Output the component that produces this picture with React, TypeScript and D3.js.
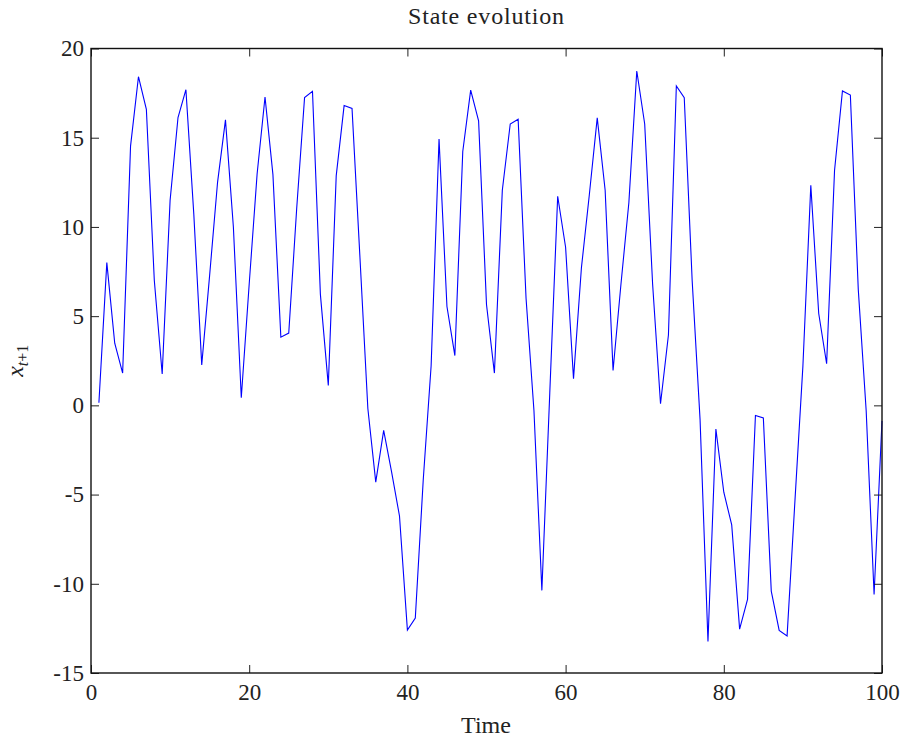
import * as d3 from 'd3';
import React, { useRef, useEffect } from 'react';

// time steps 1..100
const steps: number[] = Array.from({ length: 100 }, (_, i) => i + 1);

// state values
const stateValues: number[] = [
    0.15, 8.0, 3.48, 1.81, 14.53, 18.42, 16.59, 7.03, 1.76, 11.49,
    16.13, 17.69, 10.69, 2.27, 7.3, 12.5, 16.0, 10.0, 0.43, 6.8,
    12.97, 17.28, 12.93, 3.82, 4.05, 11.0, 17.25, 17.6, 6.22, 1.12,
    12.86, 16.8, 16.64, 8.3, -0.18, -4.3, -1.4, -3.73, -6.2, -12.59,
    -11.92, -4.2, 2.22, 14.92, 5.54, 2.79, 14.23, 17.67, 15.95, 5.65,
    1.81, 12.06, 15.77, 16.04, 6.0, -0.3, -10.37, 0.7, 11.72, 8.86,
    1.49, 7.71, 11.8, 16.11, 12.06, 1.95, 6.8, 11.37, 18.74, 15.77,
    6.8, 0.09, 3.94, 17.9, 17.25, 7.0, -0.8, -13.23, -1.33, -4.87,
    -6.7, -12.54, -10.87, -0.57, -0.71, -10.41, -12.61, -12.93, -5.3, 2.2,
    12.33, 5.15, 2.33, 13.16, 17.62, 17.39, 6.5, -0.3, -10.6, -0.87,
];

const xTicks: number[] = [0, 20, 40, 60, 80, 100];
const yTicks: number[] = [-15, -10, -5, 0, 5, 10, 15, 20];

const titleText = "State evolution";
const xLabel = "Time";

const W = 901;
const H = 738;
const margin = { left: 91, right: 19, top: 48.5, bottom: 65 };
const font = "'Liberation Serif', 'DejaVu Serif', serif";

function App() {
    const ref = useRef<SVGSVGElement>(null);

    useEffect(() => {
        const svg = d3.select(ref.current);
        svg.selectAll("*").remove();

        const innerW = W - margin.left - margin.right;
        const innerH = H - margin.top - margin.bottom;

        const x = d3.scaleLinear().domain([0, 100]).range([margin.left, margin.left + innerW]);
        const y = d3.scaleLinear().domain([-15, 20]).range([margin.top + innerH, margin.top]);

        svg.append("rect")
            .attr("width", W)
            .attr("height", H)
            .attr("fill", "#ffffff");

        // data line
        const line = d3.line<number>()
            .x((d, i) => x(steps[i]))
            .y(d => y(d));

        svg.append("path")
            .datum(stateValues)
            .attr("fill", "none")
            .attr("stroke", "#0000ff")
            .attr("stroke-width", 1.1)
            .attr("d", line);

        const tickLen = 8;
        const fmt = (d: any) => String(d); // plain hyphen minus like matlab

        // ticks inward on all four sides (matlab box style)
        const bottomAxis = d3.axisBottom(x).tickValues(xTicks).tickSizeInner(-tickLen).tickSizeOuter(0).tickPadding(11).tickFormat(fmt);
        const topAxis = d3.axisTop(x).tickValues(xTicks).tickSizeInner(-tickLen).tickSizeOuter(0).tickFormat(() => "");
        const leftAxis = d3.axisLeft(y).tickValues(yTicks).tickSizeInner(-tickLen).tickSizeOuter(0).tickPadding(7).tickFormat(fmt);
        const rightAxis = d3.axisRight(y).tickValues(yTicks).tickSizeInner(-tickLen).tickSizeOuter(0).tickFormat(() => "");

        const gb = svg.append("g").attr("transform", `translate(0,${margin.top + innerH})`).call(bottomAxis);
        const gt = svg.append("g").attr("transform", `translate(0,${margin.top})`).call(topAxis);
        const gl = svg.append("g").attr("transform", `translate(${margin.left},0)`).call(leftAxis);
        const gr = svg.append("g").attr("transform", `translate(${margin.left + innerW},0)`).call(rightAxis);

        [gb, gt, gl, gr].forEach(g => {
            g.select(".domain").remove();
            g.selectAll(".tick line").attr("stroke", "#222").attr("stroke-width", 1);
            g.selectAll(".tick text")
                .attr("fill", "#222")
                .style("font-family", font)
                .style("font-size", "23px");
        });

        // box frame
        svg.append("rect")
            .attr("x", margin.left)
            .attr("y", margin.top)
            .attr("width", innerW)
            .attr("height", innerH)
            .attr("fill", "none")
            .attr("stroke", "#111")
            .attr("stroke-width", 1.4);

        // title
        svg.append("text")
            .attr("x", 486)
            .attr("y", 24)
            .attr("text-anchor", "middle")
            .attr("fill", "#222")
            .attr("textLength", 156)
            .attr("lengthAdjust", "spacing")
            .style("font-family", font)
            .style("font-size", "24px")
            .text(titleText);

        // x label
        svg.append("text")
            .attr("x", 486)
            .attr("y", 733)
            .attr("text-anchor", "middle")
            .attr("fill", "#222")
            .style("font-family", font)
            .style("font-size", "24px")
            .text(xLabel);

        // y label x_{t+1}
        const yl = svg.append("text")
            .attr("transform", `translate(23,${margin.top + innerH / 2}) rotate(-90)`)
            .attr("text-anchor", "middle")
            .attr("fill", "#222")
            .style("font-family", font)
            .style("font-size", "24px");
        yl.append("tspan").style("font-style", "italic").text("x");
        yl.append("tspan").attr("dy", 5).style("font-size", "16px").style("font-style", "italic").text("t");
        yl.append("tspan").style("font-size", "16px").text("+1");
    }, []);

    return (
        <div style={{ position: "absolute", left: 0, top: 0 }}>
            <svg ref={ref} width={W} height={H} style={{ display: "block" }}>
            </svg>
        </div>
    );
}

export default App;
